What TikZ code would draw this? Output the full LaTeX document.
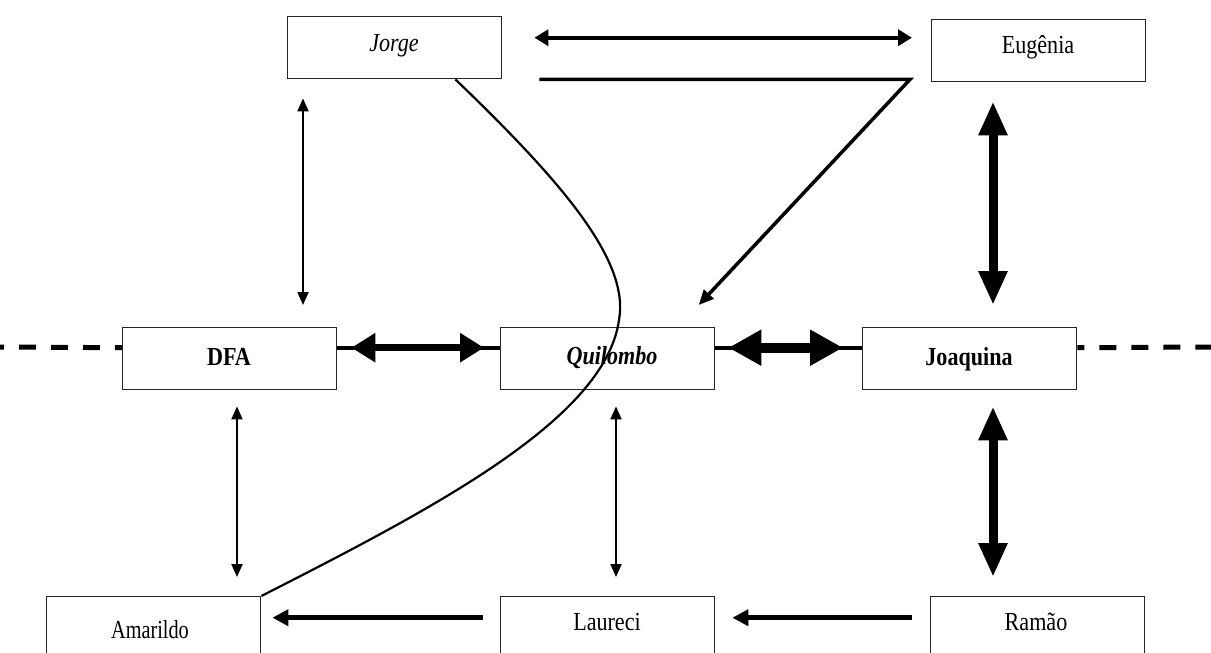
\documentclass[tikz,border=0pt]{standalone}
\usepackage{fontspec}
\setmainfont{Liberation Serif}
\usetikzlibrary{arrows.meta}
\begin{document}
\begin{tikzpicture}[x=1pt,y=-1pt,
  box/.style={draw=black!85,line width=1.4pt,fill=white,minimum width=214pt,minimum height=62pt,inner sep=0pt,anchor=north west},
  lbl/.style={anchor=base,inner sep=0pt,font=\fontsize{26}{30}\selectfont},
  thinarr/.style={line width=2pt,{Triangle[length=13pt,width=11pt]}-{Triangle[length=13pt,width=11pt]}},
  toparr/.style={line width=4pt,{Triangle[length=14pt,width=16pt]}-{Triangle[length=14pt,width=16pt]}},
  heavyarr/.style={line width=9pt,{Triangle[length=34pt,width=27pt]}-{Triangle[length=34pt,width=27pt]}},
  midarr/.style={line width=7pt,{Triangle[length=24pt,width=28pt]}-{Triangle[length=24pt,width=28pt]}},
  bigarr/.style={line width=10pt,{Triangle[length=33pt,width=34pt]}-{Triangle[length=33pt,width=34pt]}},
  botarr/.style={line width=5pt,-{Triangle[length=16pt,width=16pt]}},
  stub/.style={line width=4pt},
  dashline/.style={line width=5pt,dash pattern=on 17pt off 15pt,dash phase=10pt}
]
\useasboundingbox[fill=white] (0,0) rectangle (1211,653);

% boxes
\node[box] (Jorge) at (287,16) {};
\node[box] (Eugenia) at (931,19) {};
\node[box] (DFA) at (122,327) {};
\node[box] (Quil) at (500,327) {};
\node[box] (Joaq) at (862,327) {};
\node[box] (Amar) at (46,596) {};
\node[box] (Laur) at (500,596) {};
\node[box] (Ramao) at (930,596) {};

% labels
\node[lbl] (tJorge) at (394,51) {\scalebox{0.85}[1]{\itshape Jorge}};
\node[lbl] (tEugenia) at (1038,53) {\scalebox{0.85}[1]{Eugênia}};
\node[lbl] (tDFA) at (229,365) {\scalebox{0.85}[1]{\bfseries DFA}};
\node[lbl] (tQuil) at (612,364) {\scalebox{0.85}[1]{\bfseries\itshape Quilombo}};
\node[lbl] (tJoaq) at (969,365) {\scalebox{0.85}[1]{\bfseries Joaquina}};
\node[lbl] (tAmar) at (150,638) {\scalebox{0.78}[1]{Amarildo}};
\node[lbl] (tLaur) at (607,630) {\scalebox{0.85}[1]{Laureci}};
\node[lbl] (tRamao) at (1036,630) {\scalebox{0.85}[1]{Ramão}};

% dashed lines
\coordinate (leftend) at (0,347);
\coordinate (rightend) at (1211,347);
\draw[dashline] ([yshift=11pt]DFA.west) -- (leftend);
\draw[dashline] ([yshift=11pt]Joaq.east) -- (rightend);

% stubs
\draw[stub] ([yshift=11pt]DFA.east) -- ([yshift=11pt]Quil.west);
\draw[stub] ([yshift=11pt]Quil.east) -- ([yshift=11pt]Joaq.west);

% horizontal arrows in middle row
\draw[midarr] ([xshift=14pt,yshift=11pt]DFA.east) -- ([xshift=-16pt,yshift=11pt]Quil.west);
\draw[bigarr] ([xshift=13pt,yshift=11pt]Quil.east) -- ([xshift=-19pt,yshift=11pt]Joaq.west);

% top arrows
\draw[toparr] ([xshift=32pt,yshift=10pt]Jorge.east) -- ([xshift=-19pt,yshift=13pt]Eugenia.west);
\draw[line width=3.5pt,line join=miter,-{Triangle[length=15pt,width=13pt]}]
  ([xshift=37pt]Jorge.south east) -- ([xshift=-21pt,yshift=3pt]Eugenia.south west)
  -- ([xshift=91pt,yshift=22pt]Quil.north);

% vertical arrows
\draw[thinarr] ([xshift=16pt,yshift=-19pt]Jorge.south west) -- ([xshift=181pt,yshift=22pt]DFA.north west);
\draw[heavyarr] ([xshift=62pt,yshift=-19pt]Eugenia.south west) -- ([xshift=131pt,yshift=22pt]Joaq.north west);
\draw[thinarr] ([xshift=115pt,yshift=-16pt]DFA.south west) -- ([xshift=191pt,yshift=19pt]Amar.north west);
\draw[thinarr] ([xshift=116pt,yshift=-16pt]Quil.south west) -- ([xshift=116pt,yshift=19pt]Laur.north west);
\draw[heavyarr] ([xshift=131pt,yshift=-16pt]Joaq.south west) -- ([xshift=63pt,yshift=19pt]Ramao.north west);

% bottom arrows
\draw[botarr] ([xshift=-17pt,yshift=10pt]Laur.west) -- ([xshift=11pt,yshift=10pt]Amar.east);
\draw[botarr] ([xshift=-18pt,yshift=10pt]Ramao.west) -- ([xshift=17pt,yshift=10pt]Laur.east);

% curve
\draw[line width=2.2pt] ([xshift=-47pt]Jorge.south east)
  .. controls (560,180) and (630,260) .. (619,320)
  .. controls (605,420) and (430,510) .. (Amar.north east);
\end{tikzpicture}
\end{document}
